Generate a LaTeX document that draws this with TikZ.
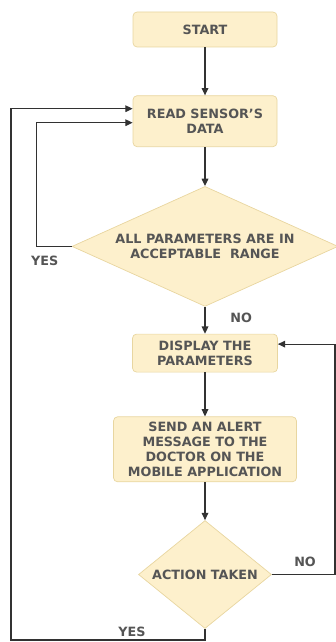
\documentclass[tikz,border=0pt]{standalone}
\usepackage{fontspec}
\setmainfont{DejaVu Sans}
\usepackage{tikz}
\usetikzlibrary{arrows.meta,positioning,shapes.geometric,calc}
\definecolor{paleyellow}{RGB}{253,240,204}
\definecolor{edgegold}{RGB}{232,214,160}
\definecolor{inkgray}{RGB}{85,85,85}
\definecolor{wiregray}{RGB}{50,50,50}
\newcommand{\flowfont}{\fontsize{10.9}{12.8}\selectfont\bfseries}
\tikzset{
  proc/.style={draw=edgegold,line width=0.6pt,rounded corners=3.5pt,fill=paleyellow,minimum width=4.32cm,minimum height=1.05cm,align=center,text=inkgray,font=\flowfont,inner sep=1pt},
  decide/.style={diamond,draw=edgegold,line width=0.6pt,fill=paleyellow,align=center,text=inkgray,font=\flowfont,inner sep=1pt},
  arr/.style={-{Triangle[length=2.2mm,width=2mm]},draw=wiregray,line width=1pt},
  lbl/.style={text=inkgray,font=\flowfont,inner sep=1pt}
}

\begin{document}
\begin{tikzpicture}
  \useasboundingbox (0,0) rectangle (10.08,-19.26);
  \node[proc] (start) at (6.15,-0.885) {START};
  \node[proc,below=1.44cm of start,minimum height=1.53cm] (read) {READ SENSOR'S\\DATA};
  \node[decide,below=1.17cm of read,minimum width=7.98cm,minimum height=3.6cm,shape aspect=2.2] (check) {ALL PARAMETERS ARE IN\\ACCEPTABLE\ \ RANGE};
  \node[proc,below=0.81cm of check,minimum width=4.35cm,minimum height=1.14cm] (display) {DISPLAY THE\\PARAMETERS};
  \node[proc,below=1.32cm of display,minimum width=5.49cm,minimum height=1.95cm] (alert) {SEND AN ALERT\\MESSAGE TO THE\\DOCTOR ON THE\\MOBILE APPLICATION};
  \node[decide,below=1.14cm of alert,minimum width=3.99cm,minimum height=3.24cm,shape aspect=1.23] (action) {ACTION TAKEN};
  \coordinate (lft) at (0.33,-19.2);
  \coordinate (rgt) at (10.05,0);
  \coordinate (corner) at (action.south |- lft);
  \draw[arr] (start)--(read); \draw[arr] (read)--(check);
  \draw[arr] (check)--(display); \draw[arr] (display)--(alert);
  \draw[arr] (alert)--(action);
  \draw[arr] (check.west)-- ++(-1.05,0) |- ([yshift=-0.045cm]read.west);
  \draw[arr] (action.south)--(corner) -- (lft) |- ([yshift=0.375cm]read.west);
  \draw[arr] (action.east)--(action.east -| rgt) |- ([yshift=0.27cm]display.east);
  \node[lbl,below left=0.24cm and 0.36cm of check.west] (yes1) {YES};
  \node[lbl,below right=0.15cm and 0.72cm of check.south] (no1) {NO};
  \node[lbl,above right=0.2cm and 0.63cm of action.east] (no2) {NO};
  \node[lbl,above left=0.06cm and 1.74cm of corner] (yes2) {YES};
\end{tikzpicture}
\end{document}
